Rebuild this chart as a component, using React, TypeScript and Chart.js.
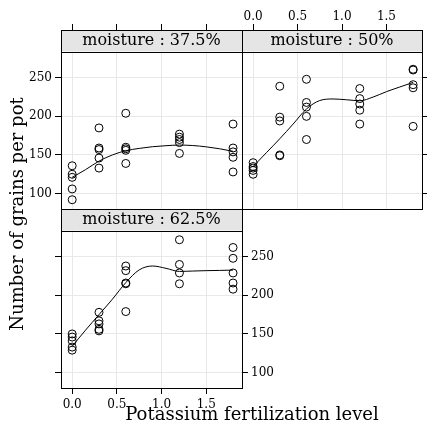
import React, { useEffect, useRef } from "react";
import { Chart, registerables } from "chart.js";
Chart.register(...registerables);

// ---------- data ----------
const potassiumLevels = [0, 0.3, 0.6, 1.2, 1.8];
const panelLabels = ["moisture : 37.5%", "moisture : 50%", "moisture : 62.5%"];

const grains375 = [
  [136, 125, 121, 106, 92],
  [185, 159, 157, 146, 133],
  [204, 160, 158, 156, 139],
  [177, 173, 170, 166, 152],
  [190, 159, 154, 147, 128],
];
const grains50 = [
  [140, 135, 133, 130, 125],
  [239, 199, 194, 150, 149],
  [248, 218, 212, 200, 170],
  [236, 223, 216, 208, 190],
  [261, 260, 241, 237, 187],
];
const grains625 = [
  [150, 146, 141, 133, 129],
  [178, 167, 163, 156, 154],
  [238, 232, 216, 215, 179],
  [272, 240, 229, 215],
  [262, 248, 229, 216, 208],
];

const smoothX = [0, 0.15, 0.3, 0.45, 0.6, 0.75, 0.9, 1.05, 1.2, 1.35, 1.5, 1.65, 1.8];
const smooth375 = [121, 131, 142, 150, 155.5, 158.5, 160.7, 162, 162.8, 162.2, 160.5, 158, 154.7];
const smooth50 = [135, 153, 171, 190, 209.5, 220.5, 222.5, 221.5, 220.2, 225, 232, 238, 244];
const smooth625 = [134, 155, 175, 195, 216.5, 233, 238, 235, 231, 231.5, 232, 232.3, 232.7];

const xTicks = [0, 0.5, 1, 1.5];
const yTicks = [100, 150, 200, 250];

const xTitle = "Potassium fertilization level";
const yTitle = "Number of grains per pot";

// ---------- layout / style ----------
const W = 427;
const H = 429;
const X_MIN = -0.125;
const X_MAX = 1.9;
const Y_MIN = 80;
const Y_MAX = 284;
const STRIP_H = 21.5;
const FONT = "DejaVu Serif";
const GRID = "#e8e8e8";
const STRIP_BG = "#e5e5e5";
const AX_X = 24;
const AX_Y = 36;

type Mode = "labels" | "ticks" | "none";
interface PanelCfg {
  rect: { l: number; r: number; t: number; b: number };
  label: string;
  grains: number[][];
  smooth: number[];
  xPos: "top" | "bottom";
  xMode: Mode;
  yLeft: Mode;
  yRight: Mode | null;
  titles?: boolean;
}

const decoPlugin = {
  id: "panelDeco",
  beforeDatasetsDraw(chart: any, _a: any, opts: any) {
    const { ctx, chartArea: a } = chart;
    ctx.save();
    ctx.fillStyle = STRIP_BG;
    ctx.fillRect(a.left, a.top, a.right - a.left, STRIP_H);
    ctx.strokeStyle = "#000";
    ctx.lineWidth = 1;
    const yb = Math.round(a.top + STRIP_H) + 0.5;
    ctx.beginPath();
    ctx.moveTo(a.left, yb);
    ctx.lineTo(a.right, yb);
    ctx.stroke();
    ctx.fillStyle = "#000";
    ctx.font = `16px "${FONT}"`;
    ctx.textAlign = "center";
    ctx.textBaseline = "middle";
    ctx.fillText(opts.label, (a.left + a.right) / 2, a.top + STRIP_H / 2 + 0.5);
    ctx.restore();
  },
  afterDatasetsDraw(chart: any) {
    const { ctx, chartArea: a } = chart;
    ctx.save();
    ctx.strokeStyle = "#000";
    ctx.lineWidth = 1;
    const l = Math.round(a.left) + 0.5;
    const r = Math.round(a.right) + 0.5;
    const t = Math.round(a.top) + 0.5;
    const b = Math.round(a.bottom) + 0.5;
    ctx.strokeRect(l, t, r - l, b - t);
    ctx.restore();
  },
  afterDraw(chart: any, _a: any, opts: any) {
    if (!opts.titles) return;
    const { ctx } = chart;
    ctx.save();
    ctx.fillStyle = "#000";
    ctx.font = `18px "${FONT}"`;
    ctx.textAlign = "center";
    ctx.textBaseline = "middle";
    ctx.fillText(xTitle, 252, 415);
    ctx.translate(18, 214);
    ctx.rotate(-Math.PI / 2);
    ctx.fillText(yTitle, 0, 0);
    ctx.restore();
  },
};

function scaleOpts(
  axis: "x" | "y",
  position: string,
  mode: Mode,
  size: number,
  min: number,
  max: number,
  ticksArr: number[],
  mainGrid: boolean
) {
  const pad = axis === "x" ? (position === "top" ? 0 : 4) : 3;
  return {
    type: "linear",
    position,
    min,
    max,
    afterBuildTicks: (s: any) => {
      s.ticks = ticksArr.map((v) => ({ value: v }));
    },
    afterFit: (s: any) => {
      if (axis === "x") s.height = size;
      else s.width = size;
    },
    grid: {
      display: true,
      drawOnChartArea: mainGrid,
      drawTicks: mode !== "none",
      tickLength: 6,
      tickColor: "#000",
      color: GRID,
      lineWidth: 1,
    },
    border: { display: false },
    ticks: {
      display: mode === "labels",
      color: "#000",
      font: { family: FONT, size: 12 },
      padding: pad,
      maxRotation: 0,
      autoSkip: false,
      callback: (v: any) => (axis === "x" ? Number(v).toFixed(1) : String(v)),
    },
  };
}

function buildPanel(canvas: HTMLCanvasElement, cfg: PanelCfg) {
  const { l, r, t, b } = cfg.rect;
  const plotH = b - t - STRIP_H;
  const yTop = Y_MAX + (STRIP_H * (Y_MAX - Y_MIN)) / plotH;

  const leftSize = Math.min(AX_Y, l);
  const rightSize = cfg.yRight ? Math.min(AX_Y, W - r) : 0;
  const xSize = cfg.xPos === "top" ? Math.min(AX_X, t) : Math.min(AX_X, H - b);
  const topSize = cfg.xPos === "top" ? xSize : 0;
  const bottomSize = cfg.xPos === "bottom" ? xSize : 0;

  const scales: any = {
    x: scaleOpts("x", cfg.xPos, cfg.xMode, xSize, X_MIN, X_MAX, xTicks, true),
    y: scaleOpts("y", "left", cfg.yLeft, leftSize, Y_MIN, yTop, yTicks, true),
  };
  if (cfg.yRight) {
    scales.y2 = scaleOpts("y", "right", cfg.yRight, rightSize, Y_MIN, yTop, yTicks, false);
  }

  const points: { x: number; y: number }[] = [];
  potassiumLevels.forEach((k, i) => cfg.grains[i].forEach((g) => points.push({ x: k, y: g })));
  const curve = smoothX.map((x, i) => ({ x, y: cfg.smooth[i] }));

  return new Chart(canvas, {
    type: "scatter",
    data: {
      datasets: [
        {
          data: curve,
          showLine: true,
          borderColor: "#000",
          borderWidth: 1,
          pointRadius: 0,
          tension: 0.4,
          cubicInterpolationMode: "monotone",
          fill: false,
        } as any,
        {
          data: points,
          pointStyle: "circle",
          pointRadius: 4,
          borderWidth: 1,
          borderColor: "#000",
          backgroundColor: "rgba(0,0,0,0)",
        },
      ],
    },
    options: {
      responsive: false,
      animation: false,
      events: [],
      layout: {
        padding: {
          left: l - leftSize,
          right: W - r - rightSize,
          top: t - topSize,
          bottom: H - b - bottomSize,
        },
      },
      scales,
      plugins: {
        legend: { display: false },
        tooltip: { enabled: false },
        panelDeco: { label: cfg.label, titles: !!cfg.titles },
      } as any,
    },
    plugins: [decoPlugin as any],
  });
}

const panels: PanelCfg[] = [
  {
    rect: { l: 61, r: 242, t: 30, b: 209 },
    label: panelLabels[0],
    grains: grains375,
    smooth: smooth375,
    xPos: "top",
    xMode: "ticks",
    yLeft: "labels",
    yRight: null,
  },
  {
    rect: { l: 242, r: 423, t: 30, b: 209 },
    label: panelLabels[1],
    grains: grains50,
    smooth: smooth50,
    xPos: "top",
    xMode: "labels",
    yLeft: "none",
    yRight: "ticks",
  },
  {
    rect: { l: 61, r: 242, t: 209, b: 388 },
    label: panelLabels[2],
    grains: grains625,
    smooth: smooth625,
    xPos: "bottom",
    xMode: "labels",
    yLeft: "ticks",
    yRight: "labels",
    titles: true,
  },
];

export default function App() {
  const r1 = useRef<HTMLCanvasElement>(null);
  const r2 = useRef<HTMLCanvasElement>(null);
  const r3 = useRef<HTMLCanvasElement>(null);

  useEffect(() => {
    const refs = [r1, r2, r3];
    const charts = panels.map((p, i) => buildPanel(refs[i].current as HTMLCanvasElement, p));
    return () => charts.forEach((c) => c.destroy());
  }, []);

  const cs: React.CSSProperties = { position: "absolute", left: 0, top: 0 };
  return (
    <div style={{ position: "absolute", left: 0, top: 0, width: W, height: H, background: "#fff" }}>
      <canvas ref={r1} width={W} height={H} style={cs} />
      <canvas ref={r2} width={W} height={H} style={cs} />
      <canvas ref={r3} width={W} height={H} style={cs} />
    </div>
  );
}
